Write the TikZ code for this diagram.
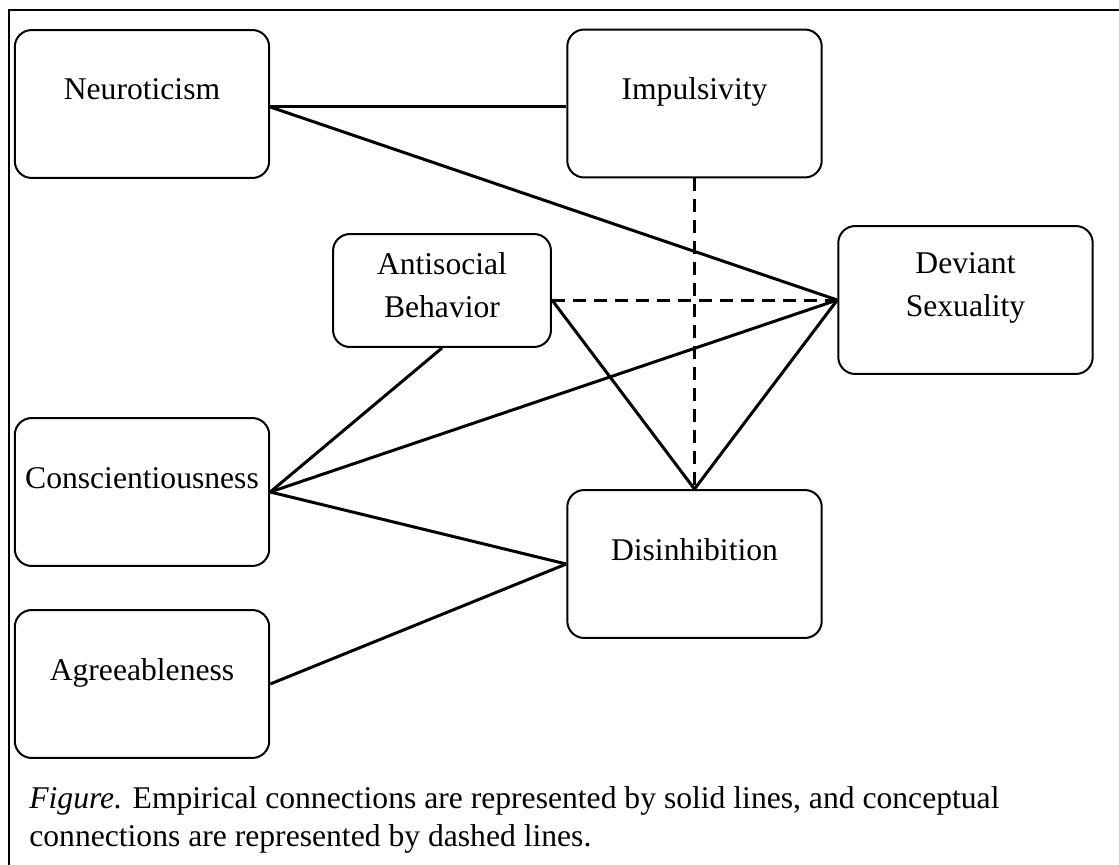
\documentclass[tikz,border=0pt]{standalone}
\usepackage{fontspec}
\setmainfont{Liberation Serif}
\tikzset{
  trait/.style={draw, rounded corners=0.34cm, line width=0.04cm, inner sep=0pt,
    minimum width=5.09cm, minimum height=2.96cm, align=center,
    font=\fontsize{18}{25}\selectfont, text height=0.44cm, text depth=0.6cm},
  link/.style={line width=0.06cm},
  concept/.style={link, dash pattern=on 0.26cm off 0.16cm},
}
\begin{document}
\begin{tikzpicture}[x=0.02cm, y=-0.02cm]
    \useasboundingbox (0,0) rectangle (1119,865);
    % Frame
    \draw[line width=0.04cm] (9,865) -- (9,10) -- (1119,10);

    % Traits
    \node[trait] (neuro) at (142,104) {Neuroticism};
    \node[trait] (impuls) at (694.5,103.5) {Impulsivity};
    \node[trait, minimum width=4.36cm, minimum height=2.26cm,
          text height=1.32cm, text depth=0.22cm] (antisoc) at (442,290.5) {Antisocial\\Behavior};
    \node[trait, text height=1.32cm, text depth=0.64cm] (deviant) at (965.5,300) {Deviant\\Sexuality};
    \node[trait] (consc) at (142,492) {Conscientiousness};
    \node[trait] (disinh) at (694.5,564) {Disinhibition};
    \node[trait] (agree) at (142,684) {Agreeableness};

    % Empirical connections
    \draw[link] ([yshift=-0.06cm]neuro.east) -- ([yshift=-0.06cm]neuro.east -| impuls.west);
    \draw[link] ([yshift=-0.06cm]neuro.east) -- (deviant.west);
    \draw[link] (antisoc.east |- deviant.west) -- (disinh.north);
    \draw[link] (deviant.west) -- (disinh.north);
    \draw[link] (antisoc.south) -- (consc.east);
    \draw[link] (consc.east) -- (deviant.west);
    \draw[link] (consc.east) -- (disinh.west);
    \draw[link] (agree.east) -- (disinh.west);

    % Conceptual connections
    \draw[concept] (antisoc.east |- deviant.west) -- (deviant.west);
    \draw[concept] (impuls.south) -- (disinh.north);

    % Caption
    \node[anchor=north west, inner sep=0pt, align=left,
          font=\fontsize{18}{21.6}\selectfont] (caption) at (29,786)
      {\textit{Figure.} Empirical connections are represented by solid lines, and conceptual\\
       connections are represented by dashed lines.};
\end{tikzpicture}
\end{document}
